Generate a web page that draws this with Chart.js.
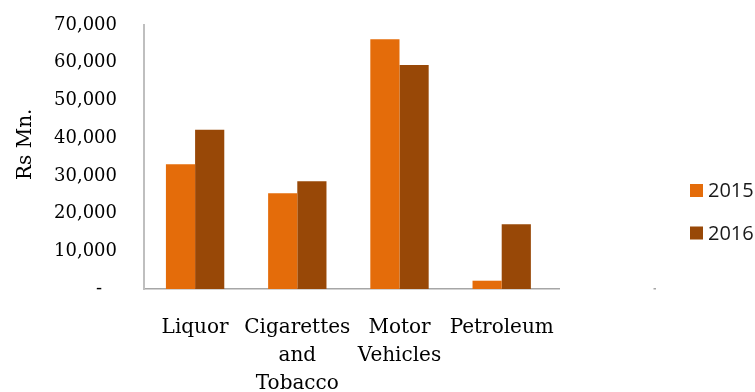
<!DOCTYPE html>
<html>
<head>
<meta charset="utf-8">
<script src="https://cdn.jsdelivr.net/npm/chart.js@4.4.1/dist/chart.umd.min.js"></script>
<style>
  html, body { margin: 0; padding: 0; background: #ffffff; }
  #wrap { width: 755px; height: 392px; }
</style>
</head>
<body>
<div id="wrap"><canvas id="chart" width="755" height="392"></canvas></div>
<script>
// Excise revenue by commodity (Rs Mn.)
const categories = ['Liquor', ['Cigarettes', 'and', 'Tobacco'], ['Motor', 'Vehicles'], 'Petroleum', ''];
const seriesNames = ['2015', '2016'];
const values2015 = [33100, 25400, 66200, 2200, null];
const values2016 = [42200, 28600, 59400, 17200, null];
const yTickValues = [0, 10000, 20000, 30000, 40000, 50000, 60000, 70000];
const yTickLabels = ['-\u00a0\u00a0\u2009', '10,000', '20,000', '30,000', '40,000', '50,000', '60,000', '70,000'];
const seriesColors = ['#E46C0A', '#984807'];

const serif = '"DejaVu Serif", "Liberation Serif", serif';

// Legend drawn to the right of the plot, on a white box
const sideLegend = {
  id: 'sideLegend',
  afterDraw(chart) {
    const ctx = chart.ctx;
    ctx.save();
    ctx.fillStyle = '#ffffff';
    ctx.fillRect(560, 150, 93.5, 145);
    ctx.font = '20px "Open Sans", "Liberation Sans", sans-serif';
    ctx.textBaseline = 'middle';
    ctx.textAlign = 'left';
    const rows = [190.5, 233];
    chart.data.datasets.forEach((ds, i) => {
      const cy = rows[i];
      ctx.fillStyle = ds.backgroundColor;
      ctx.fillRect(690, cy - 6.5, 13, 13);
      ctx.fillStyle = '#1a1a1a';
      ctx.fillText(ds.label, 708, cy + 1);
    });
    ctx.restore();
  }
};

new Chart(document.getElementById('chart'), {
  type: 'bar',
  data: {
    labels: categories,
    datasets: [
      { label: seriesNames[0], data: values2015, backgroundColor: seriesColors[0] },
      { label: seriesNames[1], data: values2016, backgroundColor: seriesColors[1] }
    ]
  },
  options: {
    responsive: false,
    devicePixelRatio: 1,
    animation: false,
    events: [],
    layout: { padding: { top: 25, right: 100, bottom: 0, left: 0 } },
    datasets: { bar: { categoryPercentage: 0.571, barPercentage: 1.0 } },
    plugins: {
      legend: { display: false },
      tooltip: { enabled: false }
    },
    scales: {
      x: {
        grid: { display: false, drawTicks: false },
        border: { display: true, color: '#a6a6a6', width: 1.5 },
        ticks: {
          padding: 25,
          maxRotation: 0,
          autoSkip: false,
          color: '#000000',
          font: { family: serif, size: 20, lineHeight: '28px' }
        },
        afterFit(scale) {
          scale.height = 103;
          scale.paddingLeft = 0;
          scale.paddingRight = 0;
        }
      },
      y: {
        min: 0,
        max: 70000,
        afterBuildTicks(scale) { scale.ticks = yTickValues.map(v => ({ value: v })); },
        grid: { display: false, drawTicks: false },
        border: { display: true, color: '#bfbfbf', width: 2 },
        ticks: {
          padding: 27,
          color: '#000000',
          font: { family: serif, size: 18 },
          callback(value) {
            const i = yTickValues.indexOf(value);
            return i >= 0 ? yTickLabels[i] : '';
          }
        },
        title: {
          display: true,
          text: '\u00a0\u00a0\u00a0\u00a0Rs Mn.',
          color: '#000000',
          font: { family: serif, size: 20, lineHeight: '24px' },
          padding: { top: 14, bottom: 16 }
        },
        afterFit(scale) {
          scale.width = 144;
          scale.paddingTop = 0;
          scale.paddingBottom = 0;
        }
      }
    }
  },
  plugins: [sideLegend]
});
</script>
</body>
</html>
